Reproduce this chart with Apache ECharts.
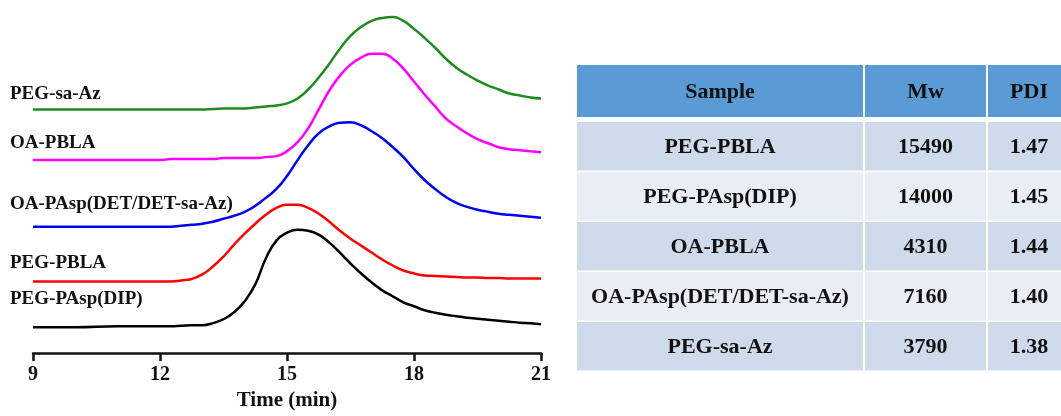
<!DOCTYPE html>
<html>
<head>
<meta charset="utf-8">
<script src="https://cdn.jsdelivr.net/npm/echarts@6/dist/echarts.min.js"></script>
<style>
    html, body { margin: 0; padding: 0; background: #fff; }
    #gpc_chart { width: 1061px; height: 416px; }
</style>
</head>
<body>
<div id="gpc_chart"></div>
<script>
/* ------------------------------------------------------------------------------
 *
 *  # GPC traces + molecular weight table
 * ---------------------------------------------------------------------------- */

// Elution time (min), shared by all traces
var timeGrid = [9, 10, 11, 12, 12.25, 12.5, 12.75, 13, 13.25, 13.5, 13.75, 14, 14.25, 14.5, 14.75, 15,
    15.25, 15.5, 15.75, 16, 16.25, 16.5, 16.75, 17, 17.25, 17.5, 17.75, 18, 18.25, 18.5, 18.75, 19,
    19.25, 19.5, 19.75, 20, 20.25, 20.5, 20.75, 21];

// Detector signal (arbitrary units, traces stacked with an offset)
var sigPegSaAz = [245, 245, 245, 245, 245, 245, 245, 245, 245.5, 246, 246, 246, 247, 248, 249, 251,
    256, 265, 277, 291, 306, 319, 328, 334, 337, 338, 334, 326, 317, 307, 296, 287,
    280, 274, 269, 265, 261, 259, 257, 256];
var sigOaPbla = [194, 194, 194, 194, 195, 195, 195, 195, 195, 196, 196, 196, 196, 197, 198, 203,
    212, 226, 245, 264, 279, 290, 297, 301, 301, 296, 286, 273, 260, 248, 236, 228,
    221, 215, 211, 207, 205, 204, 203, 202];
var sigOaPasp = [127, 127, 127, 127, 127, 128, 129, 130, 132, 135, 138, 142, 148, 156, 165, 178,
    194, 209, 221, 228, 231.5, 232, 229, 223, 216, 207, 197, 185, 174, 165, 157, 151,
    147, 144, 142, 140, 139, 138, 137, 136];
var sigPegPbla = [72, 72, 72, 72, 72, 73, 74.5, 79, 87, 97, 109, 120, 130, 139, 146, 149,
    149, 146, 140, 132, 123, 115, 108, 101, 94, 88, 83, 80, 78, 77.5, 77, 76.5,
    76, 76, 75.5, 75.5, 75, 75, 75, 75];
var sigPegPasp = [26, 26, 27, 27, 27, 27.5, 28, 28, 30, 34, 41, 52, 69, 95, 113, 121,
    124, 123, 119, 111, 101, 90, 80, 71, 63, 57, 51, 47, 43, 40.5, 38.5, 37,
    35.5, 34.5, 33.5, 32.5, 31.5, 30.5, 30, 29];

var traceNames  = ['PEG-sa-Az', 'OA-PBLA', 'OA-PAsp(DET/DET-sa-Az)', 'PEG-PBLA', 'PEG-PAsp(DIP)'];
var traceColors = ['#1f8a1f', '#ff00ff', '#0000f0', '#ff0000', '#000000'];
var timeTicks   = [9, 12, 15, 18, 21];

// Table
var tableHeader  = ['Sample', 'Mw', 'PDI'];
var tableSamples = ['PEG-PBLA', 'PEG-PAsp(DIP)', 'OA-PBLA', 'OA-PAsp(DET/DET-sa-Az)', 'PEG-sa-Az'];
var tableMw      = ['15490', '14000', '4310', '7160', '3790'];
var tablePdi     = ['1.47', '1.45', '1.44', '1.40', '1.38'];

var SERIF = '"Liberation Serif", "Times New Roman", serif';

function zip(t, v) {
    var out = [];
    for (var i = 0; i < t.length; i++) out.push([t[i], v[i]]);
    return out;
}

var traces = [sigPegSaAz, sigOaPbla, sigOaPasp, sigPegPbla, sigPegPasp].map(function (s) {
    return zip(timeGrid, s);
});

// Trace label positions (left side, above each baseline)
var labelTops = [96, 145, 206, 265, 301];

function buildGraphics() {
    var els = [];

    traceNames.forEach(function (name, i) {
        els.push({
            type: 'text',
            left: 10,
            top: labelTops[i] - 11,
            style: { text: name, font: 'bold 19px ' + SERIF, fill: '#111' }
        });
    });

    // Table geometry
    var colX = [577, 865, 988];
    var colW = [286, 121, 82];
    var headTop = 65, headH = 52;
    var rowTop = 122, rowH = 48.5, rowStep = 50;
    var rowFill = ['#cfdaeb', '#e8edf6'];

    tableHeader.forEach(function (h, c) {
        els.push({
            type: 'rect',
            shape: { x: colX[c], y: headTop, width: colW[c], height: headH },
            style: { fill: '#5b9bd5' }
        });
        els.push({
            type: 'text',
            x: colX[c] + colW[c] / 2,
            y: headTop + headH / 2 + 1,
            style: { text: h, font: 'bold 22px ' + SERIF, fill: '#111', align: 'center', verticalAlign: 'middle' }
        });
    });

    tableSamples.forEach(function (s, r) {
        var cells = [s, tableMw[r], tablePdi[r]];
        var y = rowTop + r * rowStep;
        cells.forEach(function (val, c) {
            els.push({
                type: 'rect',
                shape: { x: colX[c], y: y, width: colW[c], height: rowH },
                style: { fill: rowFill[r % 2] }
            });
            els.push({
                type: 'text',
                x: colX[c] + colW[c] / 2,
                y: y + rowH / 2 + 1,
                style: { text: val, font: 'bold 22px ' + SERIF, fill: '#111', align: 'center', verticalAlign: 'middle' }
            });
        });
    });

    return els;
}

var gpc_chart = echarts.init(document.getElementById('gpc_chart'));

gpc_chart.setOption({
    backgroundColor: '#fff',
    animation: false,
    textStyle: { fontFamily: SERIF },

    grid: { left: 33, right: 520, top: 5, bottom: 61 },

    xAxis: {
        type: 'value',
        min: timeTicks[0],
        max: timeTicks[timeTicks.length - 1],
        interval: timeTicks[1] - timeTicks[0],
        name: 'Time (min)',
        nameLocation: 'middle',
        nameGap: 37,
        nameTextStyle: { color: '#111', fontSize: 21, fontWeight: 'bold', fontFamily: SERIF },
        axisLine: { lineStyle: { color: '#111', width: 2.5 } },
        axisTick: { show: true, inside: false, length: 8, lineStyle: { color: '#111', width: 2.5 } },
        axisLabel: { color: '#111', fontSize: 20, fontWeight: 'bold', fontFamily: SERIF, margin: 12 },
        splitLine: { show: false }
    },

    yAxis: {
        type: 'value',
        min: 0,
        max: 350,
        show: false
    },

    series: traces.map(function (d, i) {
        return {
            name: traceNames[i],
            type: 'line',
            data: d,
            smooth: 0.5,
            showSymbol: false,
            lineStyle: { color: traceColors[i], width: 2.5 },
            itemStyle: { color: traceColors[i] }
        };
    }),

    graphic: buildGraphics()
});
</script>
</body>
</html>
